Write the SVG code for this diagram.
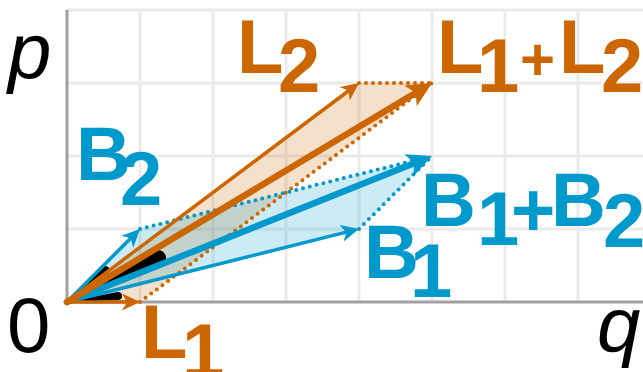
<svg xmlns="http://www.w3.org/2000/svg" width="643" height="372" viewBox="0 0 643 372">
<style>
.grid line{stroke:#EBEBEB;stroke-width:3}
.axis{stroke:#A0A0A0;stroke-width:3;fill:none}
.or{fill:#CC6600}
.bl{fill:#0099CC}
.lab{font-family:"Liberation Sans",Arial,sans-serif;font-weight:bold;font-size:76px}
.ax{font-family:"Liberation Sans",Arial,sans-serif;font-size:78px;fill:#000}
.it{font-style:italic}
.thinO{stroke:#CC6600;stroke-width:3.5;fill:none;stroke-linecap:round;marker-end:url(#hOt)}
.thickO{stroke:#CC6600;stroke-width:6.5;fill:none;stroke-linecap:round;marker-end:url(#hOk)}
.thinB{stroke:#0099CC;stroke-width:3.5;fill:none;stroke-linecap:round;marker-end:url(#hBt)}
.thickB{stroke:#0099CC;stroke-width:6.5;fill:none;stroke-linecap:round;marker-end:url(#hBk)}
.dotO{stroke:#CC6600;stroke-width:4;stroke-dasharray:0 7;stroke-linecap:round;fill:none}
.dotB{stroke:#0099CC;stroke-width:4;stroke-dasharray:0 7;stroke-linecap:round;fill:none}
</style>
<defs>
<marker id="hOt" markerUnits="userSpaceOnUse" orient="auto" refX="0" refY="0" overflow="visible"><path d="M10,0 L-8,-8.5 L-3,0 L-8,8.5 Z" fill="#CC6600"/></marker>
<marker id="hOk" markerUnits="userSpaceOnUse" orient="auto" refX="0" refY="0" overflow="visible"><path d="M14,0 L-11,-12 L-5,0 L-11,12 Z" fill="#CC6600"/></marker>
<marker id="hBt" markerUnits="userSpaceOnUse" orient="auto" refX="0" refY="0" overflow="visible"><path d="M10,0 L-8,-8.5 L-3,0 L-8,8.5 Z" fill="#0099CC"/></marker>
<marker id="hBk" markerUnits="userSpaceOnUse" orient="auto" refX="0" refY="0" overflow="visible"><path d="M14,0 L-11,-12 L-5,0 L-11,12 Z" fill="#0099CC"/></marker>
</defs>
<rect width="643" height="372" fill="#fff"/>
<g id="grid" class="grid">
<line x1="140" y1="10" x2="140" y2="302"/>
<line x1="213" y1="10" x2="213" y2="302"/>
<line x1="286" y1="10" x2="286" y2="302"/>
<line x1="359" y1="10" x2="359" y2="302"/>
<line x1="432" y1="10" x2="432" y2="302"/>
<line x1="505" y1="10" x2="505" y2="302"/>
<line x1="578" y1="10" x2="578" y2="302"/>
<line x1="67" y1="10" x2="643" y2="10"/>
<line x1="67" y1="83" x2="643" y2="83"/>
<line x1="67" y1="156" x2="643" y2="156"/>
<line x1="67" y1="229" x2="643" y2="229"/>
</g>
<g id="axes">
<path class="axis" d="M67,10 V302 H643"/>
<text class="ax it" x="8" y="78">p</text>
<text class="ax it" x="597" y="352">q</text>
<text class="ax" x="7" y="352">0</text>
</g>
<g id="areas">
<path d="M67,302 L140,302 L432,83 L359,83 Z" fill="#CC6600" fill-opacity="0.2"/>
<path d="M67,302 L359,229 L432,156 L140,229 Z" fill="#0099CC" fill-opacity="0.2"/>
</g>
<g id="wedges" fill="#000">
<path d="M67,302 L117.5,292 A4,4 0 0 1 118.5,300 Z"/>
<path d="M67,302 L103.5,266.9 A4,4 0 0 1 108.5,273.1 Z"/>
<path d="M67,302 L154.5,250.8 A8,8 0 0 1 161.5,265.2 Z"/>
</g>
<g id="connectors">
<line class="dotO" x1="359" y1="83" x2="432" y2="83"/>
<line class="dotO" x1="140" y1="302" x2="432" y2="83"/>
<line class="dotB" x1="140" y1="229" x2="432" y2="156"/>
<line class="dotB" x1="359" y1="229" x2="432" y2="156"/>
</g>
<g id="B1">
<line class="thinB" x1="67" y1="302" x2="349.3" y2="231.4"/>
<text class="lab bl" x="364" y="278">B<tspan x="410" y="297">1</tspan></text>
</g>
<g id="B2">
<line class="thinB" x1="67" y1="302" x2="132.9" y2="236.1"/>
<text class="lab bl" x="76" y="180">B<tspan x="120" y="205">2</tspan></text>
</g>
<g id="B1plusB2">
<line class="thickB" x1="67" y1="302" x2="419" y2="161.2"/>
<text class="lab bl" x="421" y="226">B<tspan x="477" y="245">1</tspan><tspan x="511" y="236">+</tspan><tspan x="551" y="226">B</tspan><tspan x="603" y="247">2</tspan></text>
</g>
<g id="L1">
<line class="thinO" x1="67" y1="302" x2="130" y2="302"/>
<text class="lab or" x="141" y="358">L<tspan x="182" y="377">1</tspan></text>
</g>
<g id="L2">
<line class="thinO" x1="67" y1="302" x2="351" y2="89"/>
<text class="lab or" x="237" y="73">L<tspan x="278" y="92">2</tspan></text>
</g>
<g id="L1plusL2">
<line class="thickO" x1="67" y1="302" x2="420" y2="90.2"/>
<text class="lab or" x="437" y="73">L<tspan x="477" y="92">1</tspan><tspan x="520" y="79.5" style="font-size:60px">+</tspan><tspan x="559" y="73">L</tspan><tspan x="601" y="92">2</tspan></text>
</g>
</svg>
